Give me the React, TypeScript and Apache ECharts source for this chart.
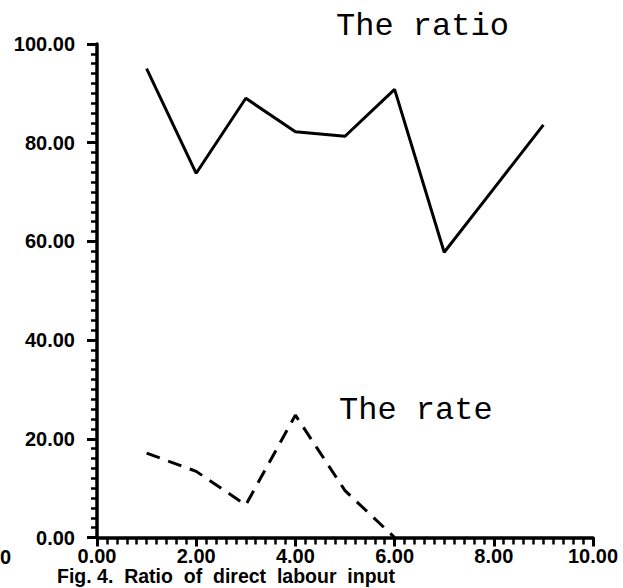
import React, { useEffect, useRef } from "react";
import * as echarts from "echarts";

const xValues = [1, 2, 3, 4, 5, 6, 7, 8, 9];
const ratioValues = [95, 73.8, 89, 82.2, 81.3, 90.8, 57.8, 70.7, 83.6];
const rateX = [1, 2, 3, 4, 5, 6];
const rateValues = [17.1, 13.4, 6.6, 24.8, 9.5, 0];
const ratioLabel = "The ratio";
const rateLabel = "The rate";
const caption = "Fig. 4.  Ratio  of  direct  labour  input";

const labelFont = "'Liberation Sans', Arial, sans-serif";
const monoFont = "'Liberation Mono', 'DejaVu Sans Mono', monospace";

export default function App() {
  const ref = useRef<HTMLDivElement>(null);
  useEffect(() => {
    if (!ref.current) return;
    const chart = echarts.init(ref.current, null, { renderer: "svg" });
    chart.setOption({
      animation: false,
      backgroundColor: "#ffffff",
      grid: { left: 97, right: 30, top: 44, bottom: 50.5, containLabel: false },
      xAxis: {
        type: "value",
        min: 0,
        max: 10,
        interval: 2,
        splitLine: { show: false },
        axisLine: { show: true, lineStyle: { color: "#000", width: 3.5 } },
        axisTick: { show: true, length: 9, lineStyle: { color: "#000", width: 3 } },
        minorTick: { show: true, splitNumber: 10, length: 7, lineStyle: { color: "#000", width: 2.5 } },
        axisLabel: {
          margin: 8,
          color: "#000",
          fontSize: 20,
          fontWeight: "bold",
          fontFamily: labelFont,
          formatter: (v: number) => v.toFixed(2),
        },
      },
      yAxis: {
        type: "value",
        min: 0,
        max: 100,
        interval: 20,
        splitLine: { show: false },
        axisLine: { show: true, lineStyle: { color: "#000", width: 3.5 } },
        axisTick: { show: true, length: 10, lineStyle: { color: "#000", width: 3 } },
        minorTick: { show: true, splitNumber: 10, length: 6, lineStyle: { color: "#000", width: 2.5 } },
        axisLabel: {
          margin: 22,
          color: "#000",
          fontSize: 20,
          fontWeight: "bold",
          fontFamily: labelFont,
          formatter: (v: number) => v.toFixed(2),
        },
      },
      series: [
        {
          type: "line",
          name: ratioLabel,
          data: xValues.map((x, i) => [x, ratioValues[i]]),
          showSymbol: false,
          symbol: "none",
          lineStyle: { color: "#000", width: 3 },
        },
        {
          type: "line",
          name: rateLabel,
          data: rateX.map((x, i) => [x, rateValues[i]]),
          showSymbol: false,
          symbol: "none",
          lineStyle: { color: "#000", width: 3, type: [14, 9] },
        },
      ],
      graphic: [
        {
          type: "text",
          left: 336,
          top: 10,
          style: { text: ratioLabel, fill: "#000", font: `32px ${monoFont}` },
        },
        {
          type: "text",
          left: 339,
          top: 394,
          style: { text: rateLabel, fill: "#000", font: `32px ${monoFont}` },
        },
        {
          type: "text",
          left: 57,
          top: 566,
          style: { text: caption, fill: "#000", font: `bold 19.5px ${labelFont}` },
        },
        {
          type: "text",
          left: 0,
          top: 547,
          style: { text: "0", fill: "#000", font: `bold 20px ${labelFont}` },
        },
      ],
    });
    return () => chart.dispose();
  }, []);
  return <div ref={ref} style={{ width: 623, height: 588, position: "absolute", left: 0, top: 0 }} />;
}
